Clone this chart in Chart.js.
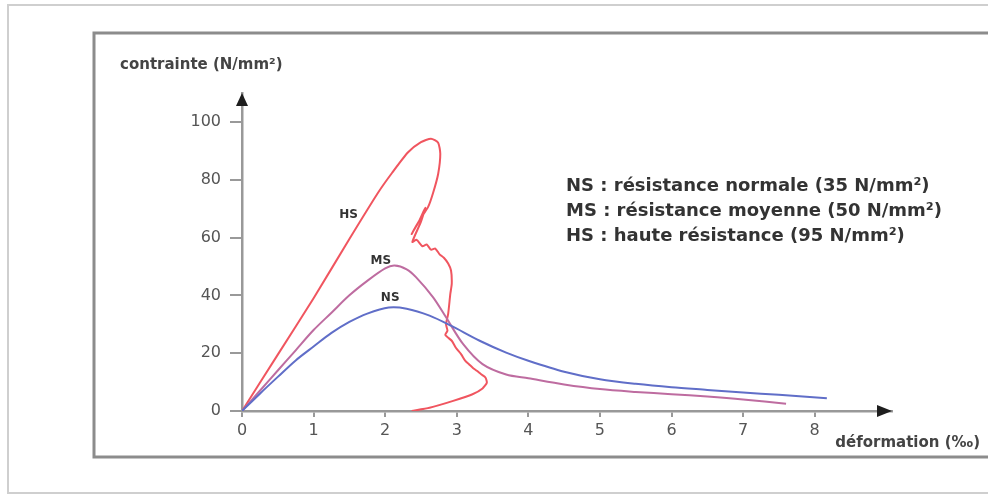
<!DOCTYPE html>
<html>
<head>
<meta charset="utf-8">
<script src="https://cdn.jsdelivr.net/npm/chart.js@4.4.0/dist/chart.umd.min.js"></script>
<style>
html, body { margin: 0; padding: 0; background: #fff; }
#wrap { position: relative; width: 988px; height: 495px; }
</style>
</head>
<body>
<div id="wrap"><canvas id="myChart" width="988" height="495"></canvas></div>
<script>
// strain (‰) / stress (N/mm²) pairs
var nsPoints = [[0,0],[0.25,6],[0.5,11.8],[0.75,17.5],[1,22.3],[1.25,27],[1.5,30.8],[1.75,33.7],[2.05,35.8],[2.3,35.4],
  [2.62,33],[2.92,29.5],[3.32,24.3],[3.69,20.2],[4,17.4],[4.5,13.6],[5,11],[5.5,9.4],[6,8.2],[6.5,7.3],[7,6.4],[7.5,5.6],[8.17,4.4]];
var msPoints = [[0,0],[0.25,7],[0.5,14],[0.75,21],[1,28],[1.25,34],[1.5,40],[1.75,45],[2,49.3],[2.13,50.3],[2.3,49],
  [2.43,46.3],[2.67,39.3],[2.85,32.4],[3.09,23.1],[3.36,16.2],[3.69,12.6],[4,11.3],[4.5,9.2],[5,7.6],[5.5,6.6],[6,5.8],
  [6.5,5],[7,4],[7.6,2.5]];
var hsPoints = [[0,0],[0.5,19.5],[1,39],[1.5,59.5],[1.9,75.5],[2.1,82.5],[2.32,89.5],[2.5,93],[2.64,94.2],[2.74,92.8],
  [2.77,89],[2.74,82],[2.67,75.5],[2.6,70.6],[2.48,66],[2.37,61.2],[2.47,65.5],[2.56,70.3],[2.5,65.5],[2.38,58.5],
  [2.44,59.2],[2.52,57],[2.58,57.6],[2.64,55.8],[2.7,56.2],[2.76,54.2],[2.82,53],[2.88,51],[2.92,48.6],[2.93,44],
  [2.91,40.5],[2.88,33.6],[2.85,30],[2.87,27.8],[2.84,26.3],[2.93,24.3],[2.99,21.8],[3.06,19.7],[3.12,17.3],[3.17,16.2],
  [3.23,14.8],[3.28,13.9],[3.34,12.7],[3.4,11.6],[3.42,9.8],[3.36,7.8],[3.22,5.8],[2.95,3.5],[2.62,1.1],[2.37,0]];

var curveLabels = ['HS', 'MS', 'NS'];
var curveLabelPos = [[1.49, 67.7], [1.94, 52.1], [2.07, 39.2]];
var legendLines = [
  'NS : résistance normale (35 N/mm²)',
  'MS : résistance moyenne (50 N/mm²)',
  'HS : haute résistance (95 N/mm²)'
];
var xTicks = [0, 1, 2, 3, 4, 5, 6, 7, 8];
var yTicks = [0, 20, 40, 60, 80, 100];
var yTitle = 'contrainte (N/mm²)';
var xTitle = 'déformation (‰)';

function toXY(arr) {
  return arr.map(function(p) { return {x: p[0], y: p[1]}; });
}

Chart.defaults.font.family = '"DejaVu Sans", sans-serif';

var decor = {
  id: 'decor',
  beforeDraw: function(chart) {
    var c = chart.ctx;
    c.save();
    c.fillStyle = '#fff';
    c.fillRect(0, 0, chart.width, chart.height);
    c.strokeStyle = '#cfcfcf';
    c.lineWidth = 2;
    c.strokeRect(8, 5, 995, 488);
    c.strokeStyle = '#8c8c8c';
    c.lineWidth = 3;
    c.strokeRect(94, 33, 905, 424);
    c.restore();
  },
  afterDraw: function(chart) {
    var c = chart.ctx;
    var a = chart.chartArea;
    var xs = chart.scales.x, ys = chart.scales.y;
    c.save();
    // arrow heads
    c.fillStyle = '#1e1e1e';
    c.beginPath();
    c.moveTo(a.left, a.top);
    c.lineTo(a.left - 6, a.top + 13);
    c.lineTo(a.left + 6, a.top + 13);
    c.closePath();
    c.fill();
    c.beginPath();
    c.moveTo(a.right, a.bottom);
    c.lineTo(a.right - 15, a.bottom - 6);
    c.lineTo(a.right - 15, a.bottom + 6);
    c.closePath();
    c.fill();
    // axis titles
    c.fillStyle = '#444';
    c.font = 'bold 15px "DejaVu Sans"';
    c.textBaseline = 'middle';
    c.textAlign = 'left';
    c.fillText(yTitle, 120, 65);
    c.textAlign = 'right';
    c.fillText(xTitle, 980, 443);
    // curve names
    c.fillStyle = '#333';
    c.font = 'bold 12px "DejaVu Sans"';
    c.textAlign = 'center';
    curveLabels.forEach(function(t, i) {
      c.fillText(t, xs.getPixelForValue(curveLabelPos[i][0]), ys.getPixelForValue(curveLabelPos[i][1]));
    });
    // legend block
    c.fillStyle = '#333';
    c.font = 'bold 18px "DejaVu Sans"';
    c.textAlign = 'left';
    legendLines.forEach(function(t, i) {
      c.fillText(t, 566, 186 + i * 25);
    });
    c.restore();
  }
};

var ctx = document.getElementById('myChart').getContext('2d');
var config = {
  type: 'scatter',
  data: {
    datasets: [
      {label: 'NS', data: toXY(nsPoints), showLine: true, borderColor: 'rgb(96,110,200)', borderWidth: 2, pointRadius: 0, tension: 0.3},
      {label: 'MS', data: toXY(msPoints), showLine: true, borderColor: 'rgb(190,108,160)', borderWidth: 2, pointRadius: 0, tension: 0.3},
      {label: 'HS', data: toXY(hsPoints), showLine: true, borderColor: 'rgb(240,85,95)', borderWidth: 2, pointRadius: 0, tension: 0.2}
    ]
  },
  options: {
    responsive: false,
    animation: false,
    layout: {padding: {left: 0, right: 96, top: 93, bottom: 0}},
    plugins: {legend: {display: false}, tooltip: {enabled: false}},
    scales: {
      x: {
        type: 'linear', min: 0, max: 9.08,
        afterBuildTicks: function(s) { s.ticks = xTicks.map(function(v) { return {value: v}; }); },
        afterFit: function(s) { s.height = 84; },
        ticks: {color: '#555', font: {size: 16}, padding: 4},
        grid: {display: true, drawOnChartArea: false, drawTicks: true, tickLength: 6, color: '#999', lineWidth: 2},
        border: {display: true, color: '#999', width: 2.5}
      },
      y: {
        type: 'linear', min: 0, max: 110,
        afterBuildTicks: function(s) { s.ticks = yTicks.map(function(v) { return {value: v}; }); },
        afterFit: function(s) { s.width = 242; },
        ticks: {color: '#555', font: {size: 16}, padding: 9},
        grid: {display: true, drawOnChartArea: false, drawTicks: true, tickLength: 12, color: '#999', lineWidth: 2},
        border: {display: true, color: '#999', width: 2.5}
      }
    }
  },
  plugins: [decor]
};
var myChart = new Chart(ctx, config);
</script>
</body>
</html>
